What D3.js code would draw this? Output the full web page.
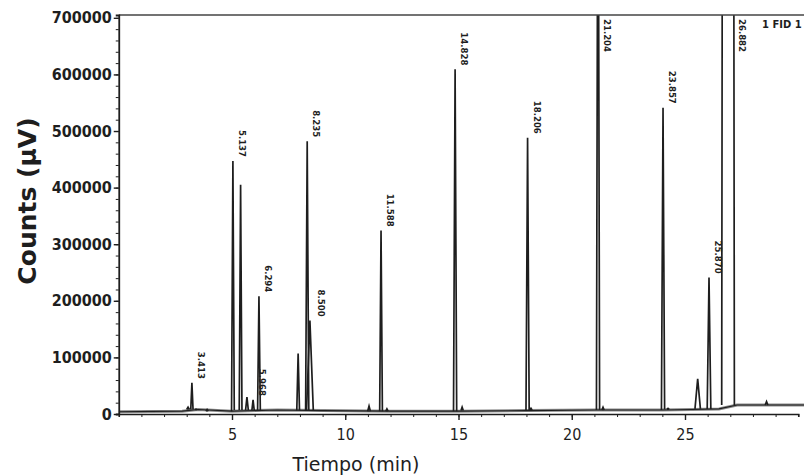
<!DOCTYPE html>
<html>
<head>
<meta charset="utf-8">
<script src="https://cdn.jsdelivr.net/npm/d3@7"></script>
<style>
  body { margin: 0; background: #fff; }
  text { font-family: "DejaVu Sans", sans-serif; }
</style>
</head>
<body>
<div id="chart"></div>
<script>
// peaks: retention time (min), height (µV), half width at base (min)
var peakTimes   = [3.06, 3.23, 3.41, 3.90, 5.04, 5.38, 5.66, 5.93, 6.19, 7.92, 8.32, 8.44, 11.05, 11.58, 11.84, 14.85, 15.16, 18.05, 18.20, 21.16, 21.38, 24.03, 24.25, 25.56, 26.06, 26.90, 28.60];
var peakHeights = [12000, 55000, 8000, 8000, 447000, 405000, 30000, 25000, 208000, 107000, 482000, 165000, 14000, 324000, 9000, 609000, 12000, 488000, 10000, 1200000, 12000, 541000, 10000, 62000, 241000, 9000000, 22000];
var peakWidths  = [0.06, 0.05, 0.05, 0.05, 0.06, 0.06, 0.06, 0.05, 0.06, 0.06, 0.07, 0.15, 0.06, 0.06, 0.05, 0.07, 0.05, 0.07, 0.05, 0.07, 0.05, 0.07, 0.05, 0.12, 0.08, 0.28, 0.06];
var peakLabels  = ["", "3.413", "", "", "5.137", "", "", "5.968", "6.294", "", "8.235", "8.500", "", "11.588", "", "14.828", "", "18.206", "", "21.204", "", "23.857", "", "", "25.870", "26.882", ""];

// baseline drift
var baseTimes  = [0, 2.8, 3.5, 5, 7, 9, 12, 15, 18, 21, 24, 25.3, 26.5, 27.3, 30.5];
var baseValues = [4000, 5000, 8000, 5000, 7000, 6000, 5000, 5000, 6000, 7000, 7000, 8000, 9000, 16000, 16000];

var xTicks = [5, 10, 15, 20, 25];
var yTicks = [0, 100000, 200000, 300000, 400000, 500000, 600000, 700000];

var W = 804, H = 475;
var plotLeft = 118.75, plotBottom = 414, plotTop = 15;

var svg = d3.select("#chart").append("svg")
  .attr("width", W)
  .attr("height", H);

var x = d3.scaleLinear().domain([0, 30]).range([plotLeft, plotLeft + 30 * 22.65]);
var y = d3.scaleLinear().domain([0, 705000]).range([plotBottom, plotTop]);

svg.append("clipPath").attr("id", "plot")
  .append("rect")
  .attr("x", plotLeft).attr("y", plotTop)
  .attr("width", W - plotLeft).attr("height", plotBottom - plotTop + 1);

var line = d3.line()
  .x(function(d) { return x(d[0]); })
  .y(function(d) { return y(d[1]); });

var ink = "#1e1e1e";
var plot = svg.append("g").attr("clip-path", "url(#plot)");

// baseline trace (grey double-line look of the scan)
var basePts = baseTimes.map(function(t, i) { return [t, baseValues[i]]; });
plot.append("path")
  .attr("d", line(basePts))
  .attr("fill", "none")
  .attr("stroke", "#8a8a8a")
  .attr("stroke-width", 3);
plot.append("path")
  .attr("d", line(basePts))
  .attr("fill", "none")
  .attr("stroke", ink)
  .attr("stroke-width", 1.1);

function baseAt(t) {
  var i = d3.bisectLeft(baseTimes, t);
  return baseValues[Math.min(i, baseValues.length - 1)];
}

// peaks
plot.selectAll("path.peak")
  .data(peakTimes)
  .enter()
  .append("path")
  .attr("class", "peak")
  .attr("d", function(t, i) {
    var w = peakWidths[i];
    return line([[t - w, baseAt(t - w)], [t, peakHeights[i]], [t + w, baseAt(t + w)]]);
  })
  .attr("fill", "none")
  .attr("stroke", ink)
  .attr("stroke-width", 1.7)
  .attr("stroke-linejoin", "miter");

// peak labels, rotated
var yMax = y.domain()[1];
svg.selectAll("text.lbl")
  .data(peakTimes.filter(function(t, i) { return peakLabels[i] !== ""; }))
  .enter()
  .append("text")
  .attr("class", "lbl")
  .attr("transform", function(t) {
    var i = peakTimes.indexOf(t);
    var lx = x(t) + (x(peakWidths[i]) - x(0)) + 8;
    var ly = peakHeights[i] > yMax ? y(yMax) + 4 : y(peakHeights[i]) - 4;
    return "translate(" + lx + "," + ly + ") rotate(90)";
  })
  .attr("text-anchor", function(t) {
    return peakHeights[peakTimes.indexOf(t)] > yMax ? "start" : "end";
  })
  .attr("dy", "0.35em")
  .style("font-family", "'DejaVu Sans Condensed', 'DejaVu Sans', sans-serif")
  .style("font-weight", "bold")
  .style("font-size", "9.5px")
  .style("fill", ink)
  .text(function(t) { return peakLabels[peakTimes.indexOf(t)]; });

// frame
svg.append("line")
  .attr("x1", plotLeft).attr("x2", W)
  .attr("y1", plotTop).attr("y2", plotTop)
  .attr("stroke", "#444").attr("stroke-width", 1.6);

// axes
var xAxis = svg.append("g")
  .attr("transform", "translate(0," + plotBottom + ")")
  .call(d3.axisBottom(x).tickValues(d3.range(1, 31)).tickSize(3).tickFormat(""));
xAxis.select(".domain").attr("stroke", ink).attr("stroke-width", 1.6);
xAxis.selectAll(".tick line").attr("stroke", ink);

var xMajor = svg.append("g")
  .attr("transform", "translate(0," + plotBottom + ")")
  .call(d3.axisBottom(x).tickValues(xTicks).tickSize(6).tickPadding(9));
xMajor.select(".domain").remove();
xMajor.selectAll(".tick line").attr("stroke", ink).attr("stroke-width", 1.4);
xMajor.selectAll(".tick text")
  .style("font-family", "'DejaVu Sans Condensed', 'DejaVu Sans', sans-serif")
  .style("font-size", "16px")
  .style("fill", ink);

var yMinor = svg.append("g")
  .attr("transform", "translate(" + plotLeft + ",0)")
  .call(d3.axisLeft(y).tickValues(d3.range(0, 700001, 20000)).tickSize(3).tickFormat(""));
yMinor.select(".domain").attr("stroke", ink).attr("stroke-width", 1.8);
yMinor.selectAll(".tick line").attr("stroke", ink);

var yAxis = svg.append("g")
  .attr("transform", "translate(" + plotLeft + ",0)")
  .call(d3.axisLeft(y).tickValues(yTicks).tickSize(5).tickPadding(2).tickFormat(d3.format("d")));
yAxis.select(".domain").remove();
yAxis.selectAll(".tick line").attr("stroke", ink).attr("stroke-width", 1.4);
yAxis.selectAll(".tick text")
  .style("font-family", "'DejaVu Sans Condensed', 'DejaVu Sans', sans-serif")
  .style("font-weight", "bold")
  .style("font-size", "16px")
  .style("fill", ink);

// titles
svg.append("text")
  .attr("transform", "translate(36,201) rotate(-90)")
  .attr("text-anchor", "middle")
  .style("font-weight", "bold")
  .style("font-size", "25px")
  .style("fill", ink)
  .text("Counts (µV)");

svg.append("text")
  .attr("x", 356)
  .attr("y", 471)
  .attr("text-anchor", "middle")
  .style("font-size", "19px")
  .style("fill", ink)
  .text("Tiempo (min)");

svg.append("text")
  .attr("x", 762)
  .attr("y", 28)
  .style("font-weight", "bold")
  .style("font-size", "10px")
  .style("fill", ink)
  .text("1 FID 1");
</script>
</body>
</html>
